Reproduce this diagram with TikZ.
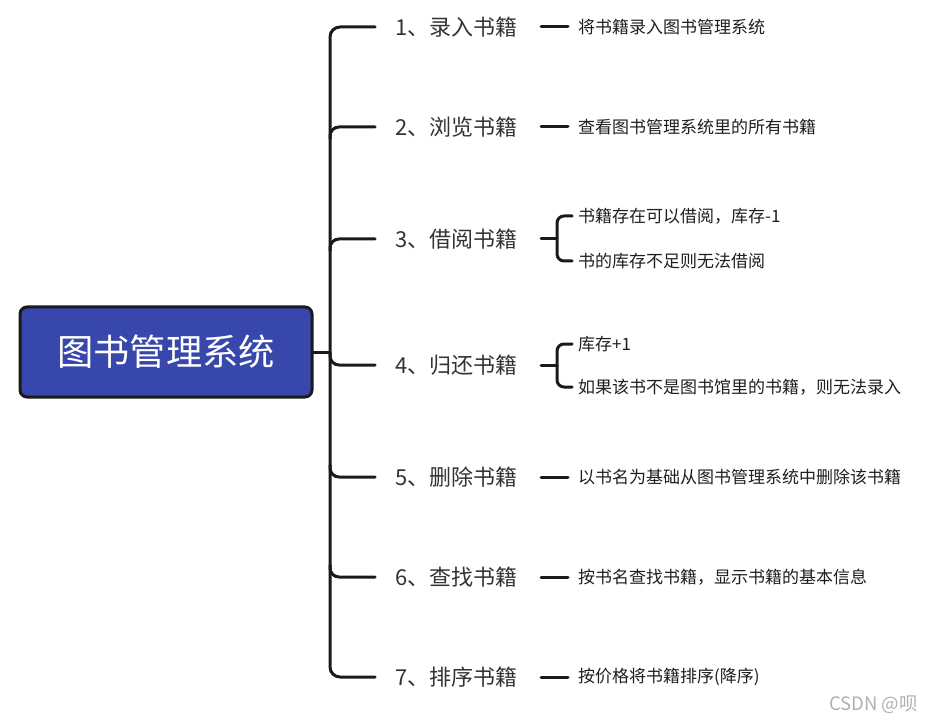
\documentclass[tikz,border=0pt]{standalone}
\usepackage{fontspec}
\setmainfont{Noto Sans CJK SC}
\definecolor{rootblue}{HTML}{3747AB}
\definecolor{linec}{HTML}{1A1A1A}
\definecolor{branchc}{HTML}{333333}
\definecolor{leafc}{HTML}{1E1E1E}
\definecolor{wmark}{HTML}{B0B0B0}
\begin{document}
\begin{tikzpicture}[x=1pt,y=-1pt,
  conn/.style={draw=linec,line width=3pt,line cap=round},
  rootbox/.style={draw=linec,line width=3pt,fill=rootblue,rounded corners=7pt,
    minimum width=292pt,minimum height=90pt,text=white,font=\fontsize{36.3}{40}\selectfont,inner sep=0pt},
  branch/.style={anchor=west,inner sep=0pt,text=branchc,font=\fontsize{22}{25}\selectfont},
  leaf/.style={anchor=west,inner sep=0pt,text=leafc,font=\fontsize{17}{20}\selectfont}]
\useasboundingbox (0,0) rectangle (937,727);
% root
\node[rootbox] (root) at (166,352) {图书管理系统};
% branches
\node[branch] (b1) at (395,27) {1、录入书籍};
\node[branch] (b2) at (395,127) {2、浏览书籍};
\node[branch] (b3) at (395,239) {3、借阅书籍};
\node[branch] (b4) at (395,365) {4、归还书籍};
\node[branch] (b5) at (395,477) {5、删除书籍};
\node[branch] (b6) at (395,577) {6、查找书籍};
\node[branch] (b7) at (395,677) {7、排序书籍};
% branch stubs
\foreach \i/\y in {1/27,2/127,3/239,4/365,5/477,6/577,7/677}{
  \coordinate (e\i) at (375,\y);
  \coordinate (s\i) at (330,\y);
}
% spine
\draw[conn,rounded corners=10pt] (e1) -- (s1) -- (s7) -- (e7);
\draw[conn,rounded corners=9pt] (330,139) |- (e2);
\draw[conn,rounded corners=9pt] (330,251) |- (e3);
\draw[conn,rounded corners=9pt] (330,353) |- (e4);
\draw[conn,rounded corners=9pt] (330,465) |- (e5);
\draw[conn,rounded corners=9pt] (330,565) |- (e6);
\draw[conn] (root.east) -- (root.east -| s1);
% leaves
\node[leaf] (l1) at (578,27) {将书籍录入图书管理系统};
\node[leaf] (l2) at (578,127) {查看图书管理系统里的所有书籍};
\node[leaf] (l3a) at (578,216) {书籍存在可以借阅，库存-1};
\node[leaf] (l3b) at (578,261) {书的库存不足则无法借阅};
\node[leaf] (l4a) at (578,344) {库存+1};
\node[leaf] (l4b) at (578,387) {如果该书不是图书馆里的书籍，则无法录入};
\node[leaf] (l5) at (578,477) {以书名为基础从图书管理系统中删除该书籍};
\node[leaf] (l6) at (578,577) {按书名查找书籍，显示书籍的基本信息};
\node[leaf] (l7) at (578,677) {按价格将书籍排序(降序)};
% leaf connectors
\foreach \b/\l in {b1/l1,b2/l2,b5/l5,b6/l6,b7/l7}{
  \draw[conn] (\b.east -| 541,0) -- ([xshift=-10pt]\l.west);
}
\draw[conn] (b3.east -| 541,0) -- (557,239);
\draw[conn,rounded corners=7pt] ([xshift=-6pt]l3a.west) -| (557,261) -- ([xshift=-6pt]l3b.west);
\draw[conn] (b4.east -| 541,0) -- (557,365);
\draw[conn,rounded corners=7pt] ([xshift=-6pt]l4a.west) -| (557,387) -- ([xshift=-6pt]l4b.west);
% watermark
\node[anchor=east,inner sep=0pt,text=wmark,font=\fontsize{18.5}{20}\selectfont] (wm) at (918,705) {CSDN @呗};
\end{tikzpicture}
\end{document}
